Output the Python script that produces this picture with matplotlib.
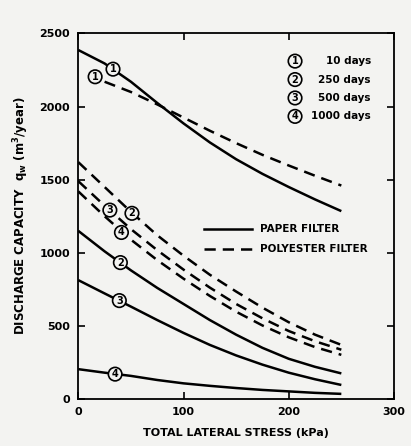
import numpy as np
import matplotlib.pyplot as plt

# stress (kPa) and discharge capacity (m3/year)
stress = [0, 25, 50, 75, 100, 125, 150, 175, 200, 225, 250]

paper_1 = [2387, 2295, 2170, 2025, 1885, 1755, 1640, 1540, 1450, 1365, 1285]
paper_2 = [1150, 1010, 880, 760, 650, 540, 440, 350, 275, 220, 175]
paper_3 = [813, 722, 632, 540, 452, 370, 298, 235, 180, 135, 96]
paper_4 = [204, 180, 158, 130, 107, 90, 75, 62, 52, 42, 35]

# polyester 10-day curve only starts after its label, so no value at 0
poly_1 = [np.nan, 2170, 2100, 2015, 1925, 1835, 1750, 1670, 1597, 1527, 1460]
poly_2 = [1620, 1450, 1280, 1120, 980, 850, 735, 625, 525, 440, 370]
poly_3 = [1490, 1322, 1162, 1018, 885, 762, 650, 552, 465, 395, 337]
poly_4 = [1420, 1250, 1090, 950, 823, 705, 597, 503, 422, 355, 302]

curve_labels = ['1', '2', '3', '4']
ages = ['10 days', '250 days', '500 days', '1000 days']

# where the circled numbers sit on the curves
paper_label_pos = [(33, 2256), (40, 933), (39, 673), (35, 170)]
poly_label_pos = [(16, 2204), (51, 1270), (30, 1292), (41, 1139)]

BG = '#f3f3f1'
plt.rcParams['font.family'] = ['DejaVu Sans']
plt.rcParams['font.weight'] = 'bold'

fig = plt.figure(figsize=(4.11, 4.46), dpi=100, facecolor=BG)
ax = fig.add_axes([0.1905, 0.1054, 0.768, 0.8195])
ax.set_facecolor(BG)

lw = 1.8
dash = (0, (4.5, 2.8))
for ys in [paper_1, paper_2, paper_3, paper_4]:
    ax.plot(stress, ys, color='black', lw=lw, solid_capstyle='butt')
for ys in [poly_1, poly_2, poly_3, poly_4]:
    ax.plot(stress, ys, color='black', lw=lw, linestyle=dash)

circ = dict(boxstyle='circle,pad=0.18', fc=BG, ec='black', lw=1.2)
for lab, (x, y) in zip(curve_labels, paper_label_pos):
    ax.text(x, y, lab, ha='center', va='center', fontsize=7, bbox=circ, zorder=5)
for lab, (x, y) in zip(curve_labels, poly_label_pos):
    ax.text(x, y, lab, ha='center', va='center', fontsize=7, bbox=circ, zorder=5)

# key for the ages
for i, (lab, age) in enumerate(zip(curve_labels, ages)):
    yk = 2311 - i * 126
    ax.text(206, yk, lab, ha='center', va='center', fontsize=7, bbox=circ)
    ax.text(278, yk, age, ha='right', va='center', fontsize=7.5)

# key for filter type
ax.plot([119, 165], [1166, 1166], color='black', lw=lw)
ax.plot([119, 165], [1029, 1029], color='black', lw=lw, linestyle=dash)
ax.text(173, 1166, 'PAPER FILTER', ha='left', va='center', fontsize=7.5)
ax.text(173, 1029, 'POLYESTER FILTER', ha='left', va='center', fontsize=7.5)

ax.set_xlim(0, 300)
ax.set_ylim(0, 2500)
ax.set_xticks([0, 100, 200, 300])
ax.set_yticks([0, 500, 1000, 1500, 2000, 2500])
ax.tick_params(direction='in', length=5, width=1.2, top=True, right=True,
               labelsize=8, pad=6)
for t in ax.get_xticklabels() + ax.get_yticklabels():
    t.set_fontweight('bold')
for s in ax.spines.values():
    s.set_linewidth(1.3)

ax.set_xlabel('TOTAL LATERAL STRESS (kPa)', fontsize=8, fontweight='bold', labelpad=8)
ax.set_ylabel('DISCHARGE CAPACITY  q$_\\mathbf{w}$ (m$^\\mathbf{3}$/year)',
              fontsize=8.5, fontweight='bold', labelpad=6)

fig.savefig('out.png', dpi=100, facecolor=BG)
